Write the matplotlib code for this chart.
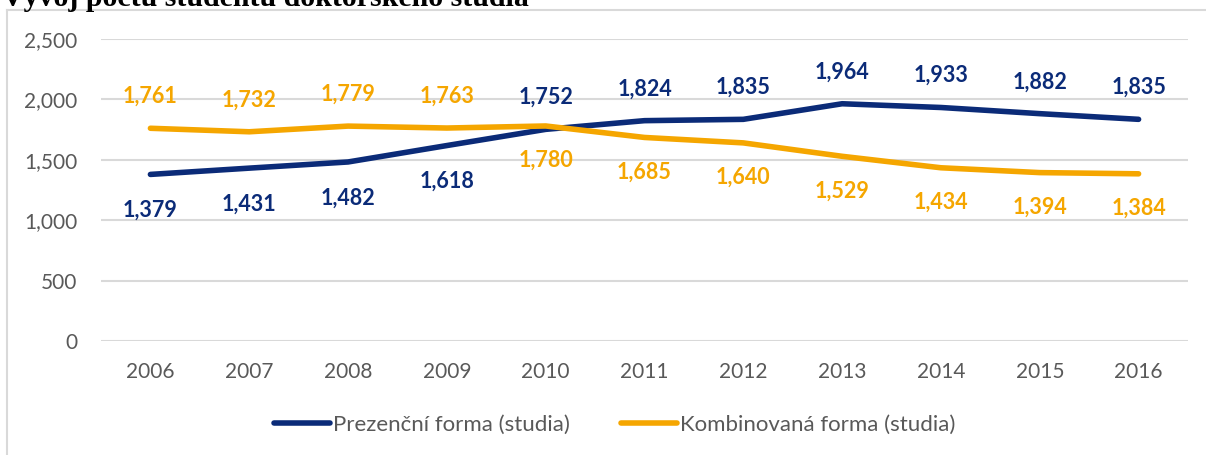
import matplotlib
matplotlib.use("Agg")
import matplotlib.pyplot as plt
from matplotlib.lines import Line2D

years = ["2006", "2007", "2008", "2009", "2010", "2011", "2012", "2013", "2014", "2015", "2016"]
prezencni = [1379, 1431, 1482, 1618, 1752, 1824, 1835, 1964, 1933, 1882, 1835]
kombinovana = [1761, 1732, 1779, 1763, 1780, 1685, 1640, 1529, 1434, 1394, 1384]
y_ticks = [0, 500, 1000, 1500, 2000, 2500]

title = "Vývoj počtu studentů doktorského studia"
label_prez = "Prezenční forma (studia)"
label_komb = "Kombinovaná forma (studia)"

navy = "#0B2B78"
orange = "#F5A600"
grey_txt = "#595959"
grid_col = "#D9D9D9"

plt.rcParams['font.family'] = ['Lato', 'DejaVu Sans']

fig = plt.figure(figsize=(12.06, 4.55), dpi=100, facecolor="white")
W, H = 1206, 455
ax = fig.add_axes([101 / W, 1 - 341 / H, (1188 - 101) / W, (341 - 39) / H])

x = list(range(len(years)))
ax.plot(x, prezencni, color=navy, linewidth=4, solid_capstyle="round", solid_joinstyle="round", zorder=3)
ax.plot(x, kombinovana, color=orange, linewidth=4, solid_capstyle="round", solid_joinstyle="round", zorder=3)

# data labels - swap sides where the lines cross
for i, v in enumerate(prezencni):
    off = -26 if i < 4 else 23
    ax.annotate(f"{v:,}", (i, v), xytext=(0, off), textcoords="offset points",
                ha="center", va="center", color=navy, fontsize=15.5, fontweight="bold")
for i, v in enumerate(kombinovana):
    off = 23 if i < 4 else -25
    ax.annotate(f"{v:,}", (i, v), xytext=(0, off), textcoords="offset points",
                ha="center", va="center", color=orange, fontsize=15.5, fontweight="bold")

ax.set_xlim(-0.5, len(years) - 0.5)
ax.set_ylim(0, 2500)
ax.set_yticks(y_ticks)
ax.set_yticklabels([f"{t:,}" for t in y_ticks])
ax.set_xticks(x)
ax.set_xticklabels(years)
ax.tick_params(axis="both", length=0, labelsize=15, colors=grey_txt)
ax.tick_params(axis="y", pad=17)
ax.tick_params(axis="x", pad=15)
ax.grid(axis="y", color=grid_col, linewidth=1.5)
ax.set_axisbelow(True)
for s in ax.spines.values():
    s.set_visible(False)

# chart area border (partly cut off)
fig.add_artist(Line2D([7 / W, 1.0], [1 - 10 / H, 1 - 10 / H], color=grid_col, linewidth=1.5))
fig.add_artist(Line2D([7 / W, 7 / W], [0, 1 - 10 / H], color=grid_col, linewidth=1.5))

fig.text(2 / W, 1 - 6 / H, title, family="Liberation Serif", fontweight="bold",
         fontsize=21.5, va="baseline", ha="left", color="black")

handles = [Line2D([], [], color=navy, linewidth=4, solid_capstyle="round"),
           Line2D([], [], color=orange, linewidth=4, solid_capstyle="round")]
fig.legend(handles, [label_prez, label_komb], loc="center", bbox_to_anchor=(615 / W, 1 - 425 / H),
           ncol=2, frameon=False, fontsize=16, labelcolor=grey_txt, handlelength=2.5,
           handletextpad=0.15, columnspacing=2.3)

fig.savefig("out.png", dpi=100, facecolor="white")
